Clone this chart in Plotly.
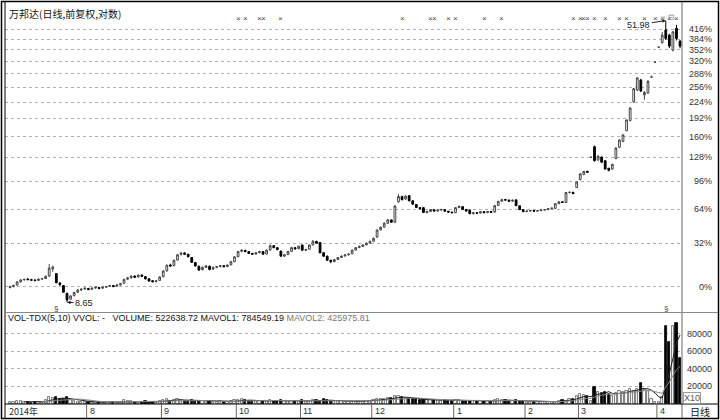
import math
import pandas as pd
import plotly.graph_objects as go

# ---------------- data ----------------
OPEN = [
    9.50, 9.55, 9.65, 9.85, 9.98, 10.03, 9.98, 9.96, 9.94, 10.02,
    10.06, 10.22, 10.70, 10.38, 9.78, 9.62, 9.15, 8.82, 9.02, 9.22,
    9.35, 9.42, 9.44, 9.40, 9.48, 9.50, 9.46, 9.52, 9.58, 9.62,
    9.58, 9.66, 9.76, 10.02, 10.10, 10.22, 10.16, 10.28, 10.18, 10.04,
    9.92, 9.86, 9.94, 10.18, 10.56, 10.96, 10.92, 11.32, 11.72, 11.84,
    11.74, 11.50, 11.14, 10.88, 10.64, 10.80, 10.88, 10.68, 10.80, 10.86,
    10.92, 10.86, 10.98, 11.20, 11.56, 11.96, 12.04, 11.94, 11.80, 11.76,
    11.86, 11.94, 11.76, 12.06, 12.40, 12.24, 11.98, 11.60, 11.72, 11.96,
    12.24, 12.16, 12.45, 12.04, 12.12, 12.46, 12.74, 12.65, 11.86, 11.60,
    11.30, 11.20, 11.36, 11.50, 11.62, 11.70, 11.78, 12.06, 12.26, 12.34,
    12.46, 12.60, 12.76, 13.10, 13.72, 13.96, 14.30, 14.60, 14.40, 16.40,
    16.95, 16.70, 17.05, 16.50, 16.12, 15.80, 15.80, 15.30, 15.42, 15.58,
    15.46, 15.56, 15.60, 15.44, 15.36, 15.30, 15.80, 15.90, 15.62, 15.55,
    15.20, 15.30, 15.26, 15.40, 15.30, 15.42, 15.36, 16.02, 16.46, 16.64,
    16.58, 16.46, 16.60, 15.98, 15.60, 15.40, 15.46, 15.52, 15.45, 15.50,
    15.56, 15.60, 15.70, 15.72, 16.20, 16.40, 16.32, 17.40, 17.42, 17.95,
    18.90, 19.50, 19.90, 21.78, 23.30, 21.40, 21.80, 21.30, 20.30, 20.20,
    21.60, 23.20, 24.10, 25.80, 27.50, 31.00, 33.40, 35.60, 32.40, 32.80,
    36.30, 39.90, 43.90, 45.20, 49.00, 47.40, 43.10, 49.50, 45.60,
]
HIGH = [
    9.60, 9.68, 9.88, 10.02, 10.06, 10.08, 10.04, 10.02, 10.05, 10.10,
    10.25, 11.03, 10.92, 10.42, 9.82, 9.66, 9.20, 9.05, 9.25, 9.40,
    9.45, 9.50, 9.48, 9.50, 9.56, 9.54, 9.56, 9.60, 9.66, 9.64,
    9.70, 9.78, 10.05, 10.16, 10.26, 10.26, 10.32, 10.34, 10.22, 10.08,
    9.96, 9.96, 10.20, 10.60, 11.00, 11.05, 11.35, 11.75, 11.92, 11.90,
    11.78, 11.54, 11.18, 10.92, 10.86, 10.96, 10.92, 10.86, 10.90, 10.96,
    10.96, 11.00, 11.25, 11.60, 12.00, 12.12, 12.08, 11.98, 11.86, 11.90,
    12.00, 11.98, 12.10, 12.48, 12.44, 12.28, 12.02, 11.76, 12.00, 12.30,
    12.30, 12.42, 12.50, 12.16, 12.50, 12.86, 12.80, 12.70, 11.90, 11.64,
    11.34, 11.40, 11.54, 11.66, 11.74, 11.80, 12.10, 12.30, 12.40, 12.50,
    12.66, 12.80, 13.06, 13.75, 14.00, 14.40, 14.70, 14.66, 16.05, 17.20,
    17.05, 17.10, 17.12, 16.56, 16.16, 15.86, 15.86, 15.48, 15.66, 15.62,
    15.60, 15.68, 15.64, 15.48, 15.40, 15.86, 16.00, 15.94, 15.66, 15.60,
    15.36, 15.34, 15.46, 15.44, 15.46, 15.46, 16.06, 16.50, 16.72, 16.70,
    16.62, 16.64, 16.66, 16.02, 15.64, 15.50, 15.56, 15.55, 15.55, 15.60,
    15.64, 15.74, 15.80, 16.25, 16.45, 16.46, 17.45, 17.50, 17.46, 18.66,
    19.65, 19.96, 19.98, 21.78, 23.45, 22.10, 21.90, 21.40, 20.35, 20.90,
    23.20, 24.40, 25.20, 27.70, 29.90, 33.80, 36.20, 35.90, 33.20, 35.60,
    36.60, 39.90, 43.90, 48.40, 51.98, 47.80, 48.60, 50.60, 46.00,
]
LOW = [
    9.45, 9.52, 9.62, 9.80, 9.92, 9.95, 9.92, 9.90, 9.92, 9.98,
    10.04, 10.18, 10.50, 9.75, 9.60, 9.20, 8.65, 8.80, 8.98, 9.18,
    9.30, 9.36, 9.34, 9.36, 9.42, 9.40, 9.42, 9.48, 9.54, 9.52,
    9.55, 9.62, 9.74, 9.96, 10.06, 10.10, 10.12, 10.16, 10.00, 9.86,
    9.82, 9.82, 9.92, 10.14, 10.52, 10.84, 10.88, 11.28, 11.66, 11.68,
    11.50, 11.12, 10.86, 10.55, 10.60, 10.76, 10.60, 10.64, 10.74, 10.80,
    10.80, 10.82, 10.94, 11.16, 11.52, 11.90, 11.88, 11.76, 11.70, 11.72,
    11.82, 11.70, 11.72, 12.02, 12.20, 12.04, 11.56, 11.54, 11.68, 11.92,
    12.10, 12.12, 12.00, 11.98, 12.08, 12.42, 12.56, 11.82, 11.56, 11.26,
    11.10, 11.16, 11.32, 11.46, 11.56, 11.64, 11.74, 12.02, 12.20, 12.30,
    12.42, 12.56, 12.72, 13.05, 13.66, 13.90, 14.26, 14.36, 14.34, 16.30,
    16.55, 16.60, 16.45, 16.10, 15.76, 15.62, 15.28, 15.24, 15.38, 15.40,
    15.42, 15.50, 15.40, 15.30, 15.24, 15.26, 15.76, 15.56, 15.40, 15.16,
    15.14, 15.20, 15.22, 15.26, 15.26, 15.28, 15.32, 15.98, 16.40, 16.52,
    16.40, 16.42, 15.96, 15.56, 15.36, 15.36, 15.42, 15.40, 15.42, 15.46,
    15.52, 15.56, 15.64, 15.68, 16.16, 16.28, 16.28, 17.30, 17.20, 17.90,
    18.80, 19.44, 19.70, 21.78, 21.20, 21.30, 21.00, 20.15, 19.90, 20.10,
    21.50, 23.10, 23.95, 25.70, 27.40, 30.80, 33.20, 33.00, 31.40, 32.60,
    36.10, 39.90, 43.90, 44.90, 46.00, 43.60, 42.70, 45.80, 43.60,
]
CLOSE = [
    9.55, 9.62, 9.85, 9.97, 10.00, 9.99, 9.96, 9.93, 10.02, 10.06,
    10.20, 10.75, 10.82, 9.80, 9.68, 9.22, 8.78, 9.00, 9.20, 9.35,
    9.40, 9.46, 9.38, 9.46, 9.52, 9.44, 9.52, 9.56, 9.62, 9.56,
    9.66, 9.74, 10.00, 10.10, 10.22, 10.14, 10.28, 10.20, 10.04, 9.90,
    9.86, 9.92, 10.16, 10.55, 10.95, 10.90, 11.30, 11.70, 11.82, 11.75,
    11.56, 11.16, 10.90, 10.62, 10.80, 10.90, 10.66, 10.80, 10.86, 10.92,
    10.85, 10.96, 11.20, 11.55, 11.95, 12.05, 11.95, 11.80, 11.75, 11.86,
    11.95, 11.75, 12.05, 12.40, 12.25, 12.10, 11.60, 11.70, 11.95, 12.25,
    12.15, 12.35, 12.05, 12.10, 12.45, 12.75, 12.60, 11.85, 11.60, 11.30,
    11.20, 11.35, 11.50, 11.60, 11.70, 11.75, 12.05, 12.25, 12.35, 12.45,
    12.60, 12.75, 13.00, 13.70, 13.95, 14.30, 14.62, 14.40, 15.96, 16.95,
    16.62, 17.00, 16.50, 16.15, 15.82, 15.70, 15.32, 15.42, 15.60, 15.46,
    15.55, 15.62, 15.45, 15.36, 15.30, 15.80, 15.92, 15.62, 15.46, 15.20,
    15.30, 15.25, 15.40, 15.30, 15.42, 15.34, 16.00, 16.45, 16.62, 16.58,
    16.45, 16.56, 16.00, 15.60, 15.40, 15.46, 15.52, 15.45, 15.50, 15.56,
    15.60, 15.70, 15.75, 16.20, 16.40, 16.34, 17.40, 17.42, 17.28, 18.60,
    19.60, 19.90, 19.80, 21.78, 21.30, 21.90, 21.10, 20.20, 20.05, 20.80,
    23.10, 24.30, 25.10, 27.60, 29.80, 33.70, 36.10, 33.20, 32.90, 35.30,
    36.30, 39.90, 43.90, 47.40, 46.40, 44.20, 48.40, 46.40, 44.20,
]
# volume in chart units (x10)
VOLUME = [
    2600, 2200, 3100, 2900, 2300, 1900, 1700, 1800, 2100, 2500,
    4200, 8200, 6800, 7400, 5200, 6100, 7600, 4300, 3600,
    2800, 2400, 2100, 1900, 2200, 2000, 1800, 2300, 2500, 2100,
    1900, 2400, 2700, 4200, 3500, 3000, 2600, 2800, 2400, 2900,
    2600, 2200, 2000, 3300,
    4600, 5200, 3900, 4800, 5600, 4300, 3800, 3400, 4100, 3600,
    3900, 3000, 2800, 3100, 2700, 2500, 2900, 2600, 2400, 3300,
    4000, 4800,
    5200, 4100, 3800, 3600, 3200, 3500, 3000, 3900, 4700, 3800,
    3300, 4400, 3100, 3400, 3800, 3100, 3600, 4200, 3300, 3500,
    4300, 4800, 3900, 5200, 4100, 3700, 3200, 2900, 3100, 2800,
    2700, 3000, 3400, 3200, 3500, 3300, 3800,
    4500, 6200, 5400, 6000, 6800, 6300, 8800, 9200, 7400, 6900,
    6400, 6000, 5200, 4700, 5300, 4500, 4200, 4400, 4000, 3900,
    4300, 3800, 3600,
    5000, 4600, 3900, 3400, 3800, 3200, 3000, 3300, 2900, 3100,
    2800, 4600, 5200, 4800, 4000, 3600, 3400, 4400, 3900, 3000,
    2600, 2400, 2300, 2500, 2200, 2400, 2600, 2800, 2700, 3900,
    4300, 3700, 6200, 5400,
    9500, 11000, 9800, 8600, 3500, 19000, 14000, 12500, 13800, 11000,
    9000, 12000, 14500, 13600, 15200, 16500, 14800, 17500, 24000, 15500,
    15000, 6200, 2100, 2300, 8100,
    89000, 71000, 88500, 91511, 52264,
]

MONTH_START = [22, 43, 64, 82, 102, 125, 145, 160, 182]
MONTH_LABEL = ["8", "9", "10", "11", "12", "1", "2", "3", "4"]
FIRST_LABEL = "2014年"
PCT_TICKS = [0, 32, 64, 96, 128, 160, 192, 224, 256, 288, 320, 352, 384, 416]
VOL_TICKS = [20000, 40000, 60000, 80000]
SIGNAL_DAYS = [64, 66, 70, 71, 76, 110, 118, 119, 123, 125, 133, 138,
               158, 160, 161, 162, 164, 167, 171, 173, 178, 181, 183, 185, 187]
LOW_DAY, LOW_VAL = 16, 8.65
HIGH_DAY, HIGH_VAL = 184, 51.98
EXRIGHT_DAYS = [13, 184]
TITLE = "万邦达(日线,前复权,对数)"
VOL_HEADER = ("VOL-TDX(5,10) VVOL: -&nbsp;&nbsp;&nbsp;VOLUME: 522638.72 MAVOL1: 784549.19 "
              "<span style='color:#777'>MAVOL2: 425975.81</span>")

N = len(CLOSE)
assert len(OPEN) == len(HIGH) == len(LOW) == N == len(VOLUME)
idx = list(range(N))
BASE = CLOSE[0]

# ---------------- geometry helpers ----------------
W, H = 720, 420
def fx(p):
    return p / W
def fy(p):
    return 1 - p / H

X_RANGE = [-1.40, N - 1 + 0.55]
PX_PER_DEC = 361.6
Y_BASE_PX = 286.7
MAIN_TOP, MAIN_BOT = 5, 312
VOL_TOP, VOL_BOT = 313, 404
lo = math.log10(BASE) - (MAIN_BOT - Y_BASE_PX) / PX_PER_DEC
hi = math.log10(BASE) + (Y_BASE_PX - MAIN_TOP) / PX_PER_DEC

up = [c >= o for o, c in zip(OPEN, CLOSE)]
vol_fill = ["white" if u else "black" for u in up]
vol_line = ["#555" if u else "black" for u in up]
vs = pd.Series(VOLUME, dtype=float)
ma5 = vs.rolling(5).mean()
ma10 = vs.rolling(10).mean()

fig = go.Figure()
fig.add_trace(go.Candlestick(
    x=idx, open=OPEN, high=HIGH, low=LOW, close=CLOSE, xaxis="x", yaxis="y",
    increasing=dict(line=dict(color="#444", width=1), fillcolor="white"),
    decreasing=dict(line=dict(color="#000", width=1), fillcolor="#000"),
    whiskerwidth=0, showlegend=False, hoverinfo="skip"))
fig.add_trace(go.Bar(
    x=idx, y=VOLUME, xaxis="x2", yaxis="y2", width=0.62,
    marker=dict(color=vol_fill, line=dict(color=vol_line, width=0.8)),
    showlegend=False, hoverinfo="skip"))
fig.add_trace(go.Scatter(x=idx, y=ma5, xaxis="x2", yaxis="y2", mode="lines",
                         line=dict(color="#222", width=1), showlegend=False, hoverinfo="skip"))
fig.add_trace(go.Scatter(x=idx, y=ma10, xaxis="x2", yaxis="y2", mode="lines",
                         line=dict(color="#888", width=1), showlegend=False, hoverinfo="skip"))

grid = dict(showgrid=True, gridcolor="#b0b0b0", griddash="dot", gridwidth=1)
fig.update_layout(
    width=W, height=H, margin=dict(l=0, r=0, t=0, b=0),
    paper_bgcolor="white", plot_bgcolor="white",
    font=dict(family="Liberation Sans, Arial, sans-serif", size=9, color="#222"),
    bargap=0,
    xaxis=dict(domain=[fx(5), fx(682)], range=X_RANGE, anchor="y", showticklabels=False,
               showgrid=False, zeroline=False, rangeslider=dict(visible=False), fixedrange=True),
    yaxis=dict(domain=[fy(MAIN_BOT), fy(MAIN_TOP)], type="log", range=[lo, hi], anchor="x",
               tickvals=[BASE * (1 + p / 100) for p in PCT_TICKS], showticklabels=False,
               zeroline=False, **grid),
    xaxis2=dict(domain=[fx(5), fx(682)], range=X_RANGE, anchor="y2", matches="x",
                showticklabels=False, showgrid=False, zeroline=False),
    yaxis2=dict(domain=[fy(VOL_BOT), fy(VOL_TOP)], range=[0, 103400], anchor="x2",
                tickvals=VOL_TICKS, showticklabels=False, zeroline=False, **grid),
)

ann = []
ann.append(dict(text=TITLE, x=fx(7), y=fy(13), xref="paper", yref="paper", xanchor="left",
                yanchor="middle", showarrow=False,
                font=dict(family="Noto Sans CJK SC", size=10, color="#111")))
for p in PCT_TICKS:
    ann.append(dict(text=f"{p}%", x=fx(714), y=math.log10(BASE * (1 + p / 100)), xref="paper",
                    yref="y", xanchor="right", yanchor="middle", showarrow=False,
                    font=dict(size=9, color="#333")))
for v in VOL_TICKS:
    ann.append(dict(text=str(v), x=fx(714), y=v, xref="paper", yref="y2", xanchor="right",
                    yanchor="middle", showarrow=False, font=dict(size=9, color="#333")))
ann.append(dict(text="X10", x=fx(683), y=fy(398), xref="paper", yref="paper", xanchor="left",
                yanchor="middle", showarrow=False, bordercolor="#999", borderwidth=1, borderpad=0,
                font=dict(size=9, color="#555")))
ann.append(dict(text=VOL_HEADER, x=fx(6), y=fy(318), xref="paper", yref="paper", xanchor="left",
                yanchor="middle", showarrow=False, font=dict(size=9, color="#111")))
ann.append(dict(text=FIRST_LABEL, x=fx(7), y=fy(411), xref="paper", yref="paper",
                xanchor="left", yanchor="middle", showarrow=False,
                font=dict(family="Noto Sans CJK SC", size=9, color="#333")))
for m, lab in zip(MONTH_START, MONTH_LABEL):
    ann.append(dict(text=lab, x=m - 0.5, y=fy(411), xref="x2", yref="paper", xanchor="left",
                    yanchor="middle", xshift=1, showarrow=False, font=dict(size=9, color="#333")))
ann.append(dict(text="日线", x=fx(700), y=fy(411), xref="paper", yref="paper", xanchor="center",
                yanchor="middle", showarrow=False,
                font=dict(family="Noto Sans CJK SC", size=10, color="#111")))
for d in SIGNAL_DAYS:
    ann.append(dict(text="×", x=d, y=fy(19), xref="x", yref="paper", xanchor="center",
                    yanchor="middle", showarrow=False, font=dict(size=8, color="#444")))
for d in EXRIGHT_DAYS:
    ann.append(dict(text="§", x=d, y=fy(308), xref="x", yref="paper", xanchor="center",
                    yanchor="middle", showarrow=False, font=dict(size=8, color="#444")))
ann.append(dict(text="8.65", x=LOW_DAY, y=math.log10(LOW_VAL), xref="x", yref="y",
                ax=17, ay=1, showarrow=True, arrowhead=2, arrowsize=0.7, arrowwidth=1,
                arrowcolor="#222", font=dict(size=9, color="#222")))
ann.append(dict(text="51.98", x=HIGH_DAY, y=math.log10(HIGH_VAL), xref="x", yref="y",
                ax=-27, ay=4, showarrow=True, arrowhead=2, arrowsize=0.7, arrowwidth=1,
                arrowcolor="#222", font=dict(size=9, color="#222")))
ann.append(dict(text="○", x=fx(668), y=fy(11), xref="paper", yref="paper", showarrow=False,
                font=dict(size=8, color="#888")))
ann.append(dict(text="⊟", x=fx(677), y=fy(11), xref="paper", yref="paper", showarrow=False,
                font=dict(size=8, color="#888")))
fig.update_layout(annotations=ann)

shapes = []
def pline(x0, y0, x1, y1, color="#000", width=1):
    shapes.append(dict(type="line", xref="paper", yref="paper", x0=fx(x0), y0=fy(y0),
                       x1=fx(x1), y1=fy(y1), line=dict(color=color, width=width)))
shapes.append(dict(type="rect", xref="paper", yref="paper", x0=fx(1.5), y0=fy(418.5),
                   x1=fx(718.5), y1=fy(1.5), line=dict(color="#000", width=1.5)))
pline(5, 2, 5, 418, "#000", 1)
pline(682, 2, 682, 418, "#666", 1)
pline(5, 312.5, 718, 312.5, "#888", 1)
pline(5, 404, 718, 404, "#000", 1)
for m in MONTH_START:
    shapes.append(dict(type="line", xref="x2", yref="paper", x0=m - 0.5, x1=m - 0.5,
                       y0=fy(404), y1=fy(418), line=dict(color="#666", width=1)))
fig.update_layout(shapes=shapes)

fig.write_html("out.html", config=dict(displayModeBar=False),
               post_script="document.body.style.margin='0';document.body.style.overflow='hidden';")
